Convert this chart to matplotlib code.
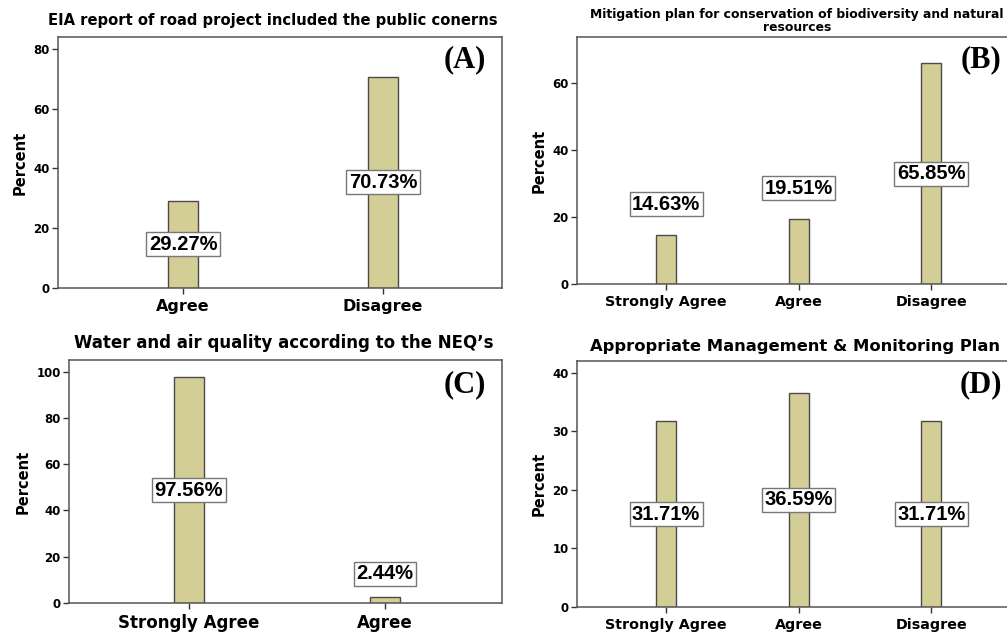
import matplotlib
matplotlib.use("Agg")
import matplotlib.pyplot as plt

# data for the four panels
cats_a = ["Agree", "Disagree"]
vals_a = [29.27, 70.73]
title_a = "EIA report of road project included the public conerns"

cats_b = ["Strongly Agree", "Agree", "Disagree"]
vals_b = [14.63, 19.51, 65.85]
title_b = "Mitigation plan for conservation of biodiversity and natural\nresources"

cats_c = ["Strongly Agree", "Agree"]
vals_c = [97.56, 2.44]
title_c = "Water and air quality according to the NEQ\u2019s"

cats_d = ["Strongly Agree", "Agree", "Disagree"]
vals_d = [31.71, 36.59, 31.71]
title_d = "Appropriate Management & Monitoring Plan"

W, H = 1007, 632
BAR = "#d3ce96"
EDGE = "#4a4a4a"

fig = plt.figure(figsize=(W / 100, H / 100), dpi=100)


def px_axes(left, top, right, bottom):
    return fig.add_axes([left / W, 1 - bottom / H, (right - left) / W, (bottom - top) / H])


def panel(box, cats, vals, title, tsize, ylim, yticks, xlim, xsize, letter, lpos, tpos, up=22):
    ax = px_axes(*box)
    x = list(range(len(cats)))
    ax.bar(x, vals, width=0.15, color=BAR, edgecolor=EDGE, linewidth=1.0, zorder=2)
    ax.set_xlim(*xlim)
    ax.set_ylim(*ylim)
    ax.set_yticks(yticks)
    ax.set_xticks(x)
    ax.set_xticklabels(cats, fontsize=xsize, fontweight="bold", family="DejaVu Sans")
    for lab in ax.get_yticklabels():
        lab.set_fontsize(8.5)
        lab.set_fontweight("bold")
    ax.tick_params(axis="both", direction="out", length=4, width=1, color="#333333", pad=2)
    ax.tick_params(axis="x", pad=4)
    ax.set_ylabel("Percent", fontsize=10.5, fontweight="bold", labelpad=4)
    for s in ax.spines.values():
        s.set_color("#555555")
        s.set_linewidth(1.1)
    box_style = dict(boxstyle="square,pad=0.12", fc="white", ec="#777777", lw=1)
    for i, v in enumerate(vals):
        if v < 25:
            ax.annotate(f"{v:.2f}%", (i, v), xytext=(0, up), textcoords="offset points",
                        ha="center", va="center", fontsize=14.5, fontweight="bold",
                        family="Liberation Sans", bbox=box_style)
        else:
            ax.text(i, v / 2, f"{v:.2f}%", ha="center", va="center", fontsize=14.5,
                    fontweight="bold", family="Liberation Sans", zorder=3, bbox=box_style)
    fig.text(tpos[0] / W, 1 - tpos[1] / H, title, ha="center", va="center",
             fontsize=tsize, fontweight="bold", linespacing=0.95)
    fig.text(lpos[0] / W, 1 - lpos[1] / H, letter, ha="center", va="center",
             fontsize=22, fontweight="bold", family="Liberation Serif")
    return ax


panel((58, 37, 502, 288), cats_a, vals_a, title_a, 10.6, (0, 84), [0, 20, 40, 60, 80],
      (-0.625, 1.595), 11.5, "(A)", (465, 60), (273, 20))
panel((577, 37, 1010, 284), cats_b, vals_b, title_b, 8.9, (0, 73.7), [0, 20, 40, 60],
      (-0.672, 2.595), 10.3, "(B)", (981, 60), (797, 21))
panel((69, 360, 502, 603), cats_c, vals_c, title_c, 12, (0, 105), [0, 20, 40, 60, 80, 100],
      (-0.612, 1.597), 12, "(C)", (465, 385), (284, 343), up=17)
panel((577, 361, 1010, 607), cats_d, vals_d, title_d, 11.8, (0, 42), [0, 10, 20, 30, 40],
      (-0.672, 2.595), 10.3, "(D)", (981, 385), (795, 346))

fig.savefig("out.png", dpi=100)
